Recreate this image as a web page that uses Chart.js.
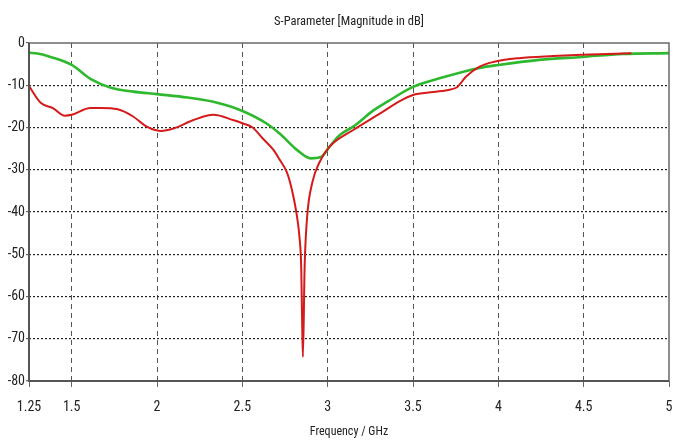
<!DOCTYPE html>
<html>
<head>
<meta charset="utf-8">
<script src="https://cdn.jsdelivr.net/npm/chart.js@4"></script>
<style>
html,body{margin:0;padding:0;background:#fff;}
#wrap{width:679px;height:442px;position:relative;}
</style>
</head>
<body>
<div id="wrap"><canvas id="c" width="679" height="442"></canvas></div>
<script>
const xTicks = [1.25, 1.5, 2, 2.5, 3, 3.5, 4, 4.5, 5];
const yTicks = [0, -10, -20, -30, -40, -50, -60, -70, -80];

const greenX = [1.25, 1.30, 1.376, 1.5, 1.61, 1.73, 1.86, 2.0, 2.18, 2.33, 2.49, 2.64, 2.72, 2.82, 2.90, 2.96, 3.01, 3.07, 3.15, 3.27, 3.35, 3.50, 3.66, 3.89, 4.0, 4.24, 4.49, 4.73, 5.0];
const greenY = [-2.3, -2.5, -3.3, -5.2, -8.5, -10.6, -11.5, -12.1, -12.9, -13.9, -15.9, -19.0, -21.5, -25.3, -27.3, -27.0, -24.6, -21.8, -19.8, -15.9, -13.9, -10.4, -8.3, -5.9, -5.2, -4.0, -3.3, -2.6, -2.4];

const redX = [1.25, 1.32, 1.39, 1.46, 1.5, 1.61, 1.67, 1.77, 1.86, 1.94, 2.02, 2.10, 2.21, 2.33, 2.45, 2.50, 2.56, 2.62, 2.68, 2.72, 2.76, 2.78, 2.80, 2.82, 2.835, 2.845, 2.85, 2.855, 2.865, 2.88, 2.91, 2.95, 3.01, 3.15, 3.31, 3.42, 3.50, 3.62, 3.72, 3.76, 3.81, 3.89, 3.97, 4.12, 4.32, 4.49, 4.78];
const redY = [-10.2, -14.2, -15.4, -17.2, -17.0, -15.4, -15.4, -15.7, -17.4, -19.8, -20.8, -20.2, -18.3, -17.0, -18.3, -19.0, -20.0, -22.6, -25.2, -27.7, -30.5, -33.0, -36.5, -41.0, -46.0, -53.0, -65.0, -74.3, -53.0, -41.0, -33.0, -28.4, -24.6, -20.6, -16.6, -13.8, -12.3, -11.6, -11.0, -10.4, -8.0, -5.6, -4.5, -3.6, -3.1, -2.8, -2.4];

const toPts = (xs, ys) => xs.map((x, i) => ({x: x, y: ys[i]}));

const FONT = "'Roboto Condensed', 'DejaVu Sans Condensed', sans-serif";

const framePlugin = {
  id: 'frame',
  afterDatasetsDraw(chart) {
    const {ctx, chartArea: a} = chart;
    ctx.save();
    ctx.strokeStyle = '#6a6a6a';
    ctx.lineWidth = 1.5;
    ctx.beginPath();
    ctx.moveTo(a.left, a.top);
    ctx.lineTo(a.right, a.top);
    ctx.lineTo(a.right, a.bottom);
    ctx.stroke();
    ctx.strokeStyle = '#555';
    ctx.lineWidth = 2;
    ctx.beginPath();
    ctx.moveTo(a.left, a.top);
    ctx.lineTo(a.left, a.bottom);
    ctx.lineTo(a.right, a.bottom);
    ctx.stroke();
    ctx.restore();
  }
};

new Chart(document.getElementById('c'), {
  type: 'line',
  data: {
    datasets: [
      {
        label: 'S1,1 red',
        data: toPts(redX, redY),
        borderColor: '#d41a1a',
        borderWidth: 2,
        pointRadius: 0,
        cubicInterpolationMode: 'monotone',
        fill: false
      },
      {
        label: 'S1,1 green',
        data: toPts(greenX, greenY),
        borderColor: '#2eb82e',
        borderWidth: 2.6,
        pointRadius: 0,
        cubicInterpolationMode: 'monotone',
        fill: false
      }
    ]
  },
  options: {
    responsive: false,
    animation: false,
    layout: {padding: {left: 0, right: 10, top: 0, bottom: 0}},
    plugins: {
      legend: {display: false},
      tooltip: {enabled: false},
      title: {
        display: true,
        fullSize: false,
        text: 'S-Parameter [Magnitude in dB]',
        color: '#222',
        font: {family: FONT, size: 12.5, weight: 'normal'},
        padding: {top: 14, bottom: 14}
      }
    },
    scales: {
      x: {
        type: 'linear',
        min: 1.25,
        max: 5,
        afterBuildTicks: (s) => { s.ticks = xTicks.map(v => ({value: v})); },
        afterFit: (s) => { s.height = 61; s.paddingRight = 0; s.paddingLeft = 0; },
        ticks: {
          color: '#222',
          font: {family: FONT, size: 14},
          padding: 12,
          maxRotation: 0,
          autoSkip: false,
          callback: (v) => String(v)
        },
        grid: {
          color: (c) => (c.tick && (c.tick.value === 1.25 || c.tick.value === 5)) ? 'rgba(0,0,0,0)' : '#555',
          lineWidth: 1,
          tickLength: 6,
          tickColor: '#666',
          tickBorderDash: [],
          drawTicks: true
        },
        border: {display: false, dash: [5, 4]},
        title: {
          display: true,
          text: 'Frequency / GHz',
          color: '#222',
          font: {family: FONT, size: 12},
          padding: {top: 0, bottom: 3}
        }
      },
      y: {
        type: 'linear',
        min: -80,
        max: 0,
        afterBuildTicks: (s) => { s.ticks = yTicks.map(v => ({value: v})); },
        afterFit: (s) => { s.width = 29; },
        ticks: {
          color: '#222',
          font: {family: FONT, size: 14},
          padding: 1,
          autoSkip: false,
          callback: (v) => String(v)
        },
        grid: {
          color: (c) => (c.tick && (c.tick.value === 0 || c.tick.value === -80)) ? 'rgba(0,0,0,0)' : '#222',
          lineWidth: 1.2,
          tickLength: 3,
          tickColor: '#666',
          tickBorderDash: []
        },
        border: {display: false, dash: [2, 2]}
      }
    }
  },
  plugins: [framePlugin]
});
</script>
</body>
</html>
